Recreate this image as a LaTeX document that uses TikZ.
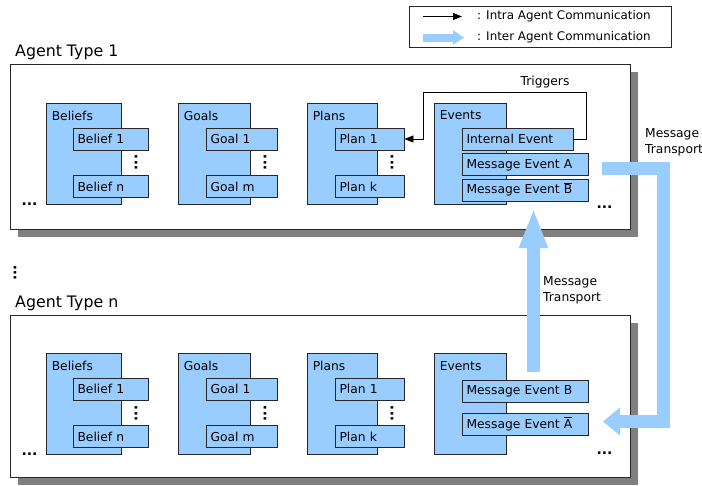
\documentclass[tikz,border=0pt]{standalone}
\usepackage{fontspec}
\setmainfont{DejaVu Sans}
\usepackage{tikz}
\usetikzlibrary{positioning,arrows.meta,shadows}

\definecolor{boxblue}{RGB}{153,204,255}
\definecolor{shadowgray}{RGB}{128,128,128}

\begin{document}
\begin{tikzpicture}[
        x=1pt, y=-1pt,
        node distance=25pt,
        agent_frame/.style={draw=black!85, fill=white, line width=0.8pt, minimum width=620pt, general shadow={fill=shadowgray, shadow xshift=8pt, shadow yshift=-8pt}},
        agent_title/.style={anchor=base west, inner sep=0pt, font=\fontsize{15.8}{18}\selectfont},
        container/.style={draw=black!85, fill=boxblue, line width=0.8pt, minimum height=101pt, inner sep=0pt},
        cont_label/.style={anchor=north west, inner xsep=6pt, inner ysep=8pt, font=\fontsize{12.3}{14}\selectfont},
        item/.style={draw=black!85, fill=boxblue, line width=0.8pt, minimum height=22pt, inner xsep=4.5pt, inner ysep=0pt, align=left, text width=#1, font=\fontsize{12.3}{14}\selectfont},
        dots/.style={inner sep=0pt, font=\bfseries\fontsize{14}{14}\selectfont},
        note/.style={inner sep=0pt, align=left, font=\fontsize{12.3}{16}\selectfont},
        intra/.style={draw=black, line width=0.8pt, -{Triangle[length=9pt,width=7pt]}},
        inter/.style={draw=boxblue, line width=13.5pt, line join=miter}
    ]

    % Page size
    \useasboundingbox (0,0) rectangle (702,485);

    % Legend
    \node[draw=black!85, line width=0.8pt, minimum width=262pt, minimum height=41pt] (legend) at (540,26.5) {};
    \coordinate (intra_from) at (423,16.5);
    \coordinate (intra_to) at (462,16.5);
    \coordinate (inter_from) at (423,37.5);
    \coordinate (inter_to) at (464,37.5);
    \draw[intra] (intra_from) -- (intra_to);
    \draw[inter, line width=8pt, -{Triangle[length=11pt,width=14pt]}] (inter_from) -- (inter_to);
    \node[note, anchor=west, font=\fontsize{11.9}{14}\selectfont] (intra_text) at (477,16.5) {: Intra Agent Communication};
    \node[note, anchor=west, font=\fontsize{11.9}{14}\selectfont] (inter_text) at (477,37.5) {: Inter Agent Communication};

    % Agent type 1
    \node[agent_title] (title1) at (15,56.5) {Agent Type 1};
    \node[agent_frame, minimum height=165pt] (agent1) at (320,146.5) {};

    \node[container, minimum width=75pt, label={[cont_label]north west:Beliefs}] (beliefs1) at (83.5,153.5) {};
    \node[container, minimum width=72pt, label={[cont_label]north west:Goals}] (goals1) at (214,153.5) {};
    \node[container, minimum width=70pt, label={[cont_label]north west:Plans}] (plans1) at (342,153.5) {};
    \node[container, minimum width=72pt, label={[cont_label]north west:Events}] (events1) at (470,153.5) {};

    \node[item=66pt] (belief1a) at (110.5,139) {Belief 1};
    \node[item=66pt, below=of belief1a] (beliefna) {Belief n};
    \node[item=62pt] (goal1a) at (241.5,139) {Goal 1};
    \node[item=62pt, below=of goal1a] (goalma) {Goal m};
    \node[item=60pt] (plan1a) at (369.5,139) {Plan 1};
    \node[item=60pt, below=of plan1a] (planka) {Plan k};

    \node[item=102pt] (ie1) at (517.5,139) {Internal Event};
    \node[item=117pt, below=3pt of ie1.south west, anchor=north west] (mea1) {Message Event A};
    \node[item=117pt, below=3pt of mea1.south west, anchor=north west] (meb1) {Message Event \smash{$\overline{\mbox{B}}$}};

    \node[dots, rotate=90] (bdots1) at (136,162.5) {...};
    \node[dots, rotate=90] (gdots1) at (265,162.5) {...};
    \node[dots, rotate=90] (pdots1) at (392,162.5) {...};
    \node[dots] (ldots1) at (29.5,204) {...};
    \node[dots] (rdots1) at (604.5,207) {...};

    % Internal event triggers a plan
    \draw[intra] (ie1.east) -- ++(13,0) |- (423,92) |- (plan1a.east);
    \node[note] (triggers) at (545,82) {Triggers};

    % Between the agent types
    \node[dots, rotate=90] (agentdots) at (15,273) {...};

    % Agent type n
    \node[agent_title] (title2) at (15,307) {Agent Type n};
    \node[agent_frame, minimum height=162pt] (agent2) at (320,396) {};

    \node[container, minimum width=75pt, label={[cont_label]north west:Beliefs}] (beliefs2) at (83.5,404) {};
    \node[container, minimum width=72pt, label={[cont_label]north west:Goals}] (goals2) at (214,404) {};
    \node[container, minimum width=70pt, label={[cont_label]north west:Plans}] (plans2) at (342,404) {};
    \node[container, minimum width=72pt, label={[cont_label]north west:Events}] (events2) at (470,404) {};

    \node[item=66pt] (belief1b) at (110.5,389) {Belief 1};
    \node[item=66pt, below=of belief1b] (beliefnb) {Belief n};
    \node[item=62pt] (goal1b) at (241.5,389) {Goal 1};
    \node[item=62pt, below=of goal1b] (goalmb) {Goal m};
    \node[item=60pt] (plan1b) at (369.5,389) {Plan 1};
    \node[item=60pt, below=of plan1b] (plankb) {Plan k};

    \node[item=117pt] (meb2) at (525,391) {Message Event B};
    \node[item=117pt, below=11pt of meb2.south west, anchor=north west] (mea2) {Message Event \smash{$\overline{\mbox{A}}$}};

    \node[dots, rotate=90] (bdots2) at (136,413.5) {...};
    \node[dots, rotate=90] (gdots2) at (265,413.5) {...};
    \node[dots, rotate=90] (pdots2) at (392,413.5) {...};
    \node[dots] (ldots2) at (29.5,454) {...};
    \node[dots] (rdots2) at (604.5,453) {...};

    % Message transport between the agent types
    \coordinate (tx_start) at (602,168.5);
    \coordinate (tx_end) at (603,421.5);
    \draw[inter, -{Triangle[length=17pt,width=27pt]}] (tx_start) -- ++(61.5,0) |- (tx_end);
    \node[note, anchor=north west] (tx_label) at (645,128.5) {Message\\Transport};

    \coordinate (rx_start) at (533.5,372);
    \coordinate (rx_end) at (533.5,208);
    \draw[inter, -{Triangle[length=40pt,width=26pt]}] (rx_start) -- (rx_end);
    \node[note, anchor=north west] (rx_label) at (543,276) {Message\\Transport};

\end{tikzpicture}
\end{document}
